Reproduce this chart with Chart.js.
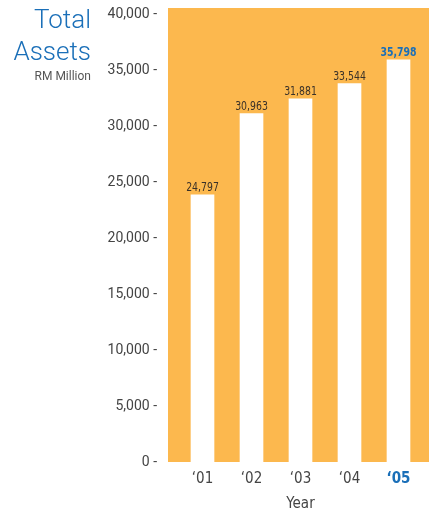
<!DOCTYPE html>
<html><head><meta charset="utf-8">
<script src="https://cdn.jsdelivr.net/npm/chart.js@4.4.1/dist/chart.umd.min.js"></script>
<style>html,body{margin:0;padding:0;background:#fff}#wrap{width:429px;height:517px}</style>
</head><body><div id="wrap"><canvas id="c" width="429" height="517"></canvas></div>
<script>
const categories = ["‘01", "‘02", "‘03", "‘04", "‘05"];
const values = [23900, 31150, 32480, 33830, 35970];
const valueLabels = ["24,797", "30,963", "31,881", "33,544", "35,798"];
const yTicks = [0, 5000, 10000, 15000, 20000, 25000, 30000, 35000, 40000];

const ORANGE = '#FCB84E';
const BLUE = '#1A6FB8';
const TEXT = '#444444';
const NARROW = '"Liberation Sans Narrow","DejaVu Sans Condensed",sans-serif';

const bgPlugin = {
  id: 'bg',
  beforeDraw(chart) {
    const {ctx, chartArea: a} = chart;
    ctx.save();
    ctx.fillStyle = ORANGE;
    ctx.fillRect(a.left - 10, a.top, chart.width - (a.left - 10), a.bottom - a.top);
    ctx.restore();
  }
};
const labelPlugin = {
  id: 'lbl',
  afterDatasetsDraw(chart) {
    const {ctx} = chart;
    const meta = chart.getDatasetMeta(0);
    ctx.save();
    ctx.textAlign = 'center';
    ctx.textBaseline = 'bottom';
    meta.data.forEach((bar, i) => {
      const last = i === meta.data.length - 1;
      ctx.save();
      ctx.translate(bar.x, bar.y - 1);
      ctx.scale(0.8, 1);
      ctx.fillStyle = last ? BLUE : '#3a3128';
      ctx.font = (last ? 'bold ' : '') + '13px ' + NARROW;
      ctx.fillText(valueLabels[i], 0, 0);
      ctx.restore();
    });
    ctx.textAlign = 'right';
    ctx.textBaseline = 'alphabetic';
    ctx.fillStyle = BLUE;
    ctx.font = '300 26px Roboto, sans-serif';
    ctx.fillText('Total', 91, 28);
    ctx.fillText('Assets', 91, 60);
    ctx.fillStyle = '#555';
    ctx.font = '12px Roboto, sans-serif';
    ctx.fillText('RM Million', 91, 80);
    ctx.restore();
  }
};

new Chart(document.getElementById('c'), {
  type: 'bar',
  data: {
    labels: categories,
    datasets: [{ data: values, backgroundColor: '#ffffff', borderWidth: 0, barThickness: 23 }]
  },
  options: {
    responsive: false,
    animation: false,
    layout: { padding: { top: 8, right: 6, left: 0, bottom: 0 } },
    plugins: { legend: { display: false }, tooltip: { enabled: false } },
    scales: {
      y: {
        min: 0, max: 40600,
        afterBuildTicks(s) { s.ticks = yTicks.map(v => ({value: v})); },
        afterFit(s) { s.width = 178; s.paddingTop = 0; s.paddingBottom = 0; },
        grid: { display: false, drawTicks: false },
        border: { display: false },
        ticks: {
          padding: 21,
          color: TEXT,
          font: { family: 'Roboto, sans-serif', size: 14 },
          callback: v => v.toLocaleString('en-US') + ' -'
        }
      },
      x: {
        afterFit(s) { s.height = 55; },
        grid: { display: false, drawTicks: false },
        border: { display: false },
        ticks: {
          padding: 8,
          color: c => c.index === 4 ? BLUE : TEXT,
          font: c => ({ family: NARROW, size: 15, weight: c.index === 4 ? 'bold' : 'normal' })
        },
        title: {
          display: true, text: 'Year', color: TEXT,
          font: { family: NARROW, size: 15 }, padding: { top: 9 }
        }
      }
    }
  },
  plugins: [bgPlugin, labelPlugin]
});
</script></body></html>
